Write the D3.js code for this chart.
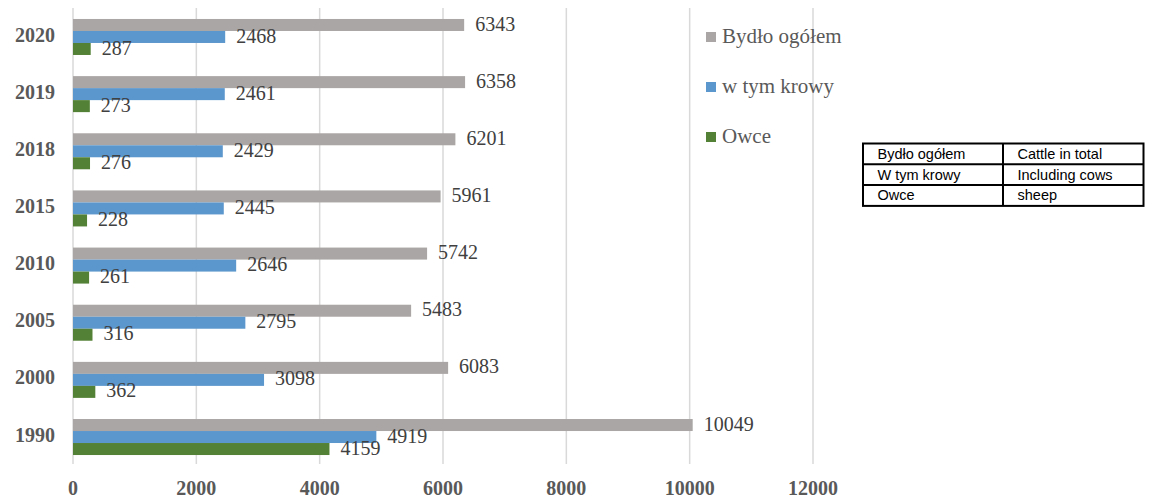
<!DOCTYPE html>
<html>
<head>
<meta charset="utf-8">
<script src="https://cdn.jsdelivr.net/npm/d3@7"></script>
<style>
  html, body { margin: 0; padding: 0; background: #fff; }
  svg { display: block; }
</style>
</head>
<body>
<svg id="chart" width="1149" height="500"></svg>
<script>
// ---- data ----
const years = ["2020", "2019", "2018", "2015", "2010", "2005", "2000", "1990"];
const seriesNames = ["Bydło ogółem", "w tym krowy", "Owce"];
const cattle = [6343, 6358, 6201, 5961, 5742, 5483, 6083, 10049];
const cows = [2468, 2461, 2429, 2445, 2646, 2795, 3098, 4919];
const sheep = [287, 273, 276, 228, 261, 316, 362, 4159];
const colors = ["#aaa6a5", "#5b96cc", "#538135"];
const xTicks = [0, 2000, 4000, 6000, 8000, 10000, 12000];
const tableRows = [
  ["Bydło ogółem", "Cattle in total"],
  ["W tym krowy", "Including cows"],
  ["Owce", "sheep"]
];

const seriesValues = [cattle, cows, sheep];

const svg = d3.select("#chart");

const x = d3.scaleLinear().domain([0, 12000]).range([73, 813]);
const y = d3.scaleBand().domain(years).range([8.4, 465.6]).padding(0);
const inner = d3.scaleBand().domain(d3.range(3)).range([-18, 18]).padding(0);

// gridlines
svg.append("g")
  .selectAll("line")
  .data(xTicks)
  .join("line")
  .attr("x1", d => x(d)).attr("x2", d => x(d))
  .attr("y1", 8).attr("y2", 464)
  .attr("stroke", "#d9d9d9")
  .attr("stroke-width", 1.5);

// bars
const groups = svg.append("g")
  .selectAll("g")
  .data(years)
  .join("g")
  .attr("transform", d => `translate(0,${y(d) + y.bandwidth() / 2})`);

seriesValues.forEach((vals, si) => {
  groups.append("rect")
    .attr("x", x(0))
    .attr("y", inner(si))
    .attr("width", (d, i) => x(vals[i]) - x(0))
    .attr("height", inner.bandwidth())
    .attr("fill", colors[si]);
  groups.append("text")
    .attr("x", (d, i) => x(vals[i]) + 11)
    .attr("y", inner(si) + inner.bandwidth() / 2 + 1)
    .attr("dominant-baseline", "middle")
    .attr("font-family", "'Liberation Serif', 'Times New Roman', serif")
    .attr("font-size", 20)
    .attr("fill", "#404040")
    .text((d, i) => vals[i]);
});

// y axis labels
svg.append("g")
  .selectAll("text")
  .data(years)
  .join("text")
  .attr("x", 55)
  .attr("y", d => y(d) + y.bandwidth() / 2)
  .attr("text-anchor", "end")
  .attr("dominant-baseline", "middle")
  .attr("font-family", "'Liberation Serif', 'Times New Roman', serif")
  .attr("font-weight", "bold")
  .attr("font-size", 20)
  .attr("fill", "#595959")
  .text(d => d);

// x axis labels
svg.append("g")
  .selectAll("text")
  .data(xTicks)
  .join("text")
  .attr("x", d => x(d))
  .attr("y", 490)
  .attr("text-anchor", "middle")
  .attr("dominant-baseline", "middle")
  .attr("font-family", "'Liberation Serif', 'Times New Roman', serif")
  .attr("font-weight", "bold")
  .attr("font-size", 20)
  .attr("fill", "#595959")
  .text(d => d);

// legend
const legend = svg.append("g")
  .selectAll("g")
  .data(seriesNames)
  .join("g")
  .attr("transform", (d, i) => `translate(706,${37 + i * 50})`);
legend.append("rect")
  .attr("x", 0).attr("y", -5)
  .attr("width", 10).attr("height", 10)
  .attr("fill", (d, i) => colors[i]);
legend.append("text")
  .attr("x", 16).attr("y", 1)
  .attr("dominant-baseline", "middle")
  .attr("font-family", "'Liberation Serif', 'Times New Roman', serif")
  .attr("font-size", 21)
  .attr("fill", "#595959")
  .text(d => d);

// translation table
const tx = 863, ty = 143.5, colW = [140, 140.5], rowH = 20.8;
const table = svg.append("g");
table.append("rect")
  .attr("x", tx).attr("y", ty)
  .attr("width", colW[0] + colW[1]).attr("height", rowH * 3)
  .attr("fill", "none").attr("stroke", "#000").attr("stroke-width", 2);
table.append("line")
  .attr("x1", tx + colW[0]).attr("x2", tx + colW[0])
  .attr("y1", ty).attr("y2", ty + rowH * 3)
  .attr("stroke", "#000").attr("stroke-width", 2);
table.selectAll("line.row")
  .data([1, 2])
  .join("line")
  .attr("class", "row")
  .attr("x1", tx).attr("x2", tx + colW[0] + colW[1])
  .attr("y1", d => ty + d * rowH).attr("y2", d => ty + d * rowH)
  .attr("stroke", "#000").attr("stroke-width", 2);
tableRows.forEach((row, ri) => {
  row.forEach((cell, ci) => {
    table.append("text")
      .attr("x", tx + (ci === 0 ? 14.5 : colW[0] + 14.5))
      .attr("y", ty + ri * rowH + rowH / 2 + 1)
      .attr("dominant-baseline", "middle")
      .attr("font-family", "'Liberation Sans', Arial, sans-serif")
      .attr("font-size", 14.5)
      .attr("fill", "#000")
      .text(cell);
  });
});
</script>
</body>
</html>
